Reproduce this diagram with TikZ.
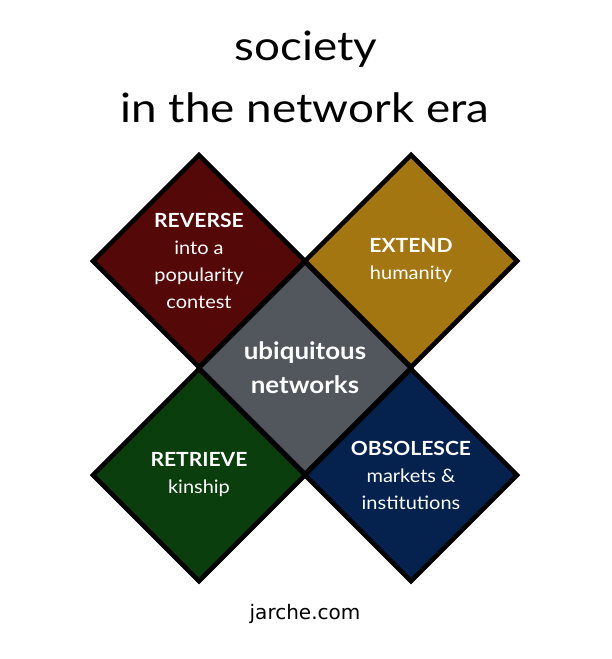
\documentclass[tikz,border=0pt]{standalone}
\usepackage{fontspec}
\setmainfont[FakeStretch=1.08]{Lato}
\newfontfamily\titlefont[FakeStretch=1.13]{Lato}
\newfontfamily\footfont{DejaVu Sans}
\usetikzlibrary{shapes.geometric}
\definecolor{cred}{HTML}{540808}
\definecolor{cgold}{HTML}{A47612}
\definecolor{cgray}{HTML}{52565D}
\definecolor{cgreen}{HTML}{0A3F0D}
\definecolor{cnavy}{HTML}{04224D}
\tikzset{
  tile/.style={diamond, aspect=1, draw=black, line width=4.5pt, minimum width=214pt, minimum height=214pt, inner sep=0pt, text=white, align=center, font=\fontsize{18.5}{27}\selectfont},
  titletext/.style={anchor=base, font=\titlefont\fontsize{40.5}{48}\selectfont},
}
\newcommand{\hd}[1]{{\bfseries\fontsize{19.5}{27}\selectfont #1}}
\begin{document}
\begin{tikzpicture}[x=1pt,y=-1pt]
\useasboundingbox[fill=white] (0,0) rectangle (612,659);
\node[titletext] (t1) at (306,60) {society};
\node[titletext] (t2) at (305,122) {in the network era};
\node[tile, fill=cred] (rev) at (199,261) {\hd{REVERSE}\\into a\\popularity\\contest};
\node[tile, fill=cgold] (ext) at (411,261) {\hd{EXTEND}\\humanity};
\node[tile, fill=cgreen] (ret) at (199,475) {\hd{RETRIEVE}\\kinship};
\node[tile, fill=cnavy] (obs) at (411,475) {\hd{OBSOLESCE}\\markets \&\\institutions};
\node[tile, fill=cgray, font=\bfseries\fontsize{24}{34}\selectfont] (ubi) at (305,368) {ubiquitous\\networks};
\node[anchor=base, font=\footfont\fontsize{20}{22}\selectfont] (foot) at (305,619) {jarche.com};
\end{tikzpicture}
\end{document}
